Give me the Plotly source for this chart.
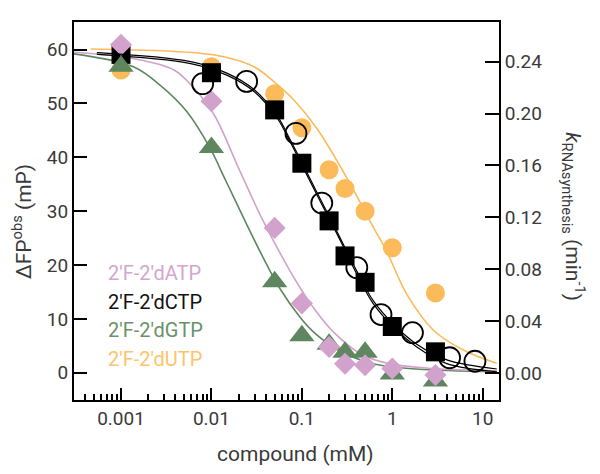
import plotly.graph_objects as go

# concentrations (mM) used for the FP titrations
conc = [0.001, 0.01, 0.05, 0.1, 0.2, 0.3, 0.5, 1, 3]

# delta FP obs (mP)
fp_atp = [60.9, 50.4, 26.9, 12.9, 4.8, 1.7, 1.4, 0.8, -0.4]
fp_ctp = [59.1, 55.7, 48.8, 38.9, 28.2, 21.7, 16.8, 8.6, 3.9]
fp_gtp = [56.9, 41.8, 16.9, 6.9, 5.3, 3.8, 3.8, -0.2, -1.5]
fp_utp = [56.2, 56.8, 51.8, 45.5, 37.7, 34.2, 30.0, 23.2, 14.8]

# RNA synthesis rate for 2'F-2'dCTP (min-1), right axis
conc_k = [0.008, 0.0245, 0.086, 0.166, 0.405, 0.75, 1.67, 4.3, 8.2]
k_ctp  = [0.223, 0.2248, 0.1847, 0.131, 0.0812, 0.045, 0.031, 0.0117, 0.009]

# fitted curves
fit_atp_x = [0.0003, 0.00139, 0.00386, 0.00642, 0.0107, 0.0207, 0.0373, 0.068, 0.0955, 0.134, 0.223, 0.44, 0.869, 2.85, 14.3]
fit_atp_y = [59.5, 58.3, 56.2, 52.8, 47.9, 37.4, 28.2, 20.0, 15.8, 12.1, 7.6, 3.6, 1.8, 0.8, 0.4]

fit_ctp_x = [0.00054, 0.0059, 0.015, 0.0296, 0.0536, 0.0741, 0.104, 0.146, 0.205, 0.288, 0.405, 0.618, 1.03, 1.866, 4.01, 14.3]
fit_ctp_y = [59.1, 57.4, 55.2, 52.2, 47.2, 42.9, 38.0, 33.1, 28.3, 23.4, 18.3, 12.8, 8.5, 4.8, 1.7, 0.2]

fit_k_x = [0.00054, 0.0059, 0.015, 0.0296, 0.0536, 0.0741, 0.104, 0.146, 0.205, 0.288, 0.405, 0.618, 1.03, 1.866, 4.01, 14.3]
fit_k_y = [0.247, 0.240, 0.231, 0.2185, 0.198, 0.180, 0.160, 0.1395, 0.1195, 0.0990, 0.0785, 0.0555, 0.0375, 0.022, 0.0100, 0.0030]

fit_gtp_x = [0.0003, 0.00137, 0.0027, 0.00533, 0.00966, 0.01355, 0.0175, 0.0246, 0.0373, 0.0574, 0.0955, 0.134, 0.265, 0.618, 1.866, 14.3]
fit_gtp_y = [59.2, 56.8, 53.4, 48.5, 41.7, 36.6, 32.7, 27.5, 21.4, 15.6, 10.3, 7.6, 4.0, 1.7, 0.7, 0.2]

fit_utp_x = [0.00046, 0.0116, 0.0296, 0.0493, 0.082, 0.146, 0.314, 0.618, 0.869, 1.445, 2.85, 6.67, 14.3]
fit_utp_y = [60.1, 58.9, 56.8, 54.0, 50.6, 45.4, 36.2, 27.0, 22.5, 14.6, 7.9, 3.9, 1.8]

labels = ["2′F-2′dATP", "2′F-2′dCTP", "2′F-2′dGTP", "2′F-2′dUTP"]

PINK   = "#d2a2cc"
GREEN  = "#5e8760"
ORANGE = "#fbbb5b"
BLACK  = "#000000"
label_colors = ["#d4a6cf", "#111111", "#6b9168", "#fdc46b"]

FONT = "Roboto"
GREY = "#3a3a3a"

fig = go.Figure()

# fit lines (below the markers)
def add_fit(x, y, color, yaxis="y", width=1.6):
    fig.add_trace(go.Scatter(
                                x          = x,
                                y          = y,
                                mode       = "lines",
                                line       = dict(color=color, width=width, shape="spline", smoothing=1),
                                yaxis      = yaxis,
                                showlegend = False,
                                hoverinfo  = "skip",
                            ))

add_fit(fit_utp_x, fit_utp_y, ORANGE)
add_fit(fit_gtp_x, fit_gtp_y, GREEN)
add_fit(fit_atp_x, fit_atp_y, PINK)
add_fit(fit_ctp_x, fit_ctp_y, BLACK, width=1.2)
add_fit(fit_k_x, fit_k_y, BLACK, yaxis="y2", width=1.2)

# markers
fig.add_trace(go.Scatter(x=conc, y=fp_utp, mode="markers", showlegend=False,
                         marker=dict(symbol="circle", size=19, color=ORANGE)))
fig.add_trace(go.Scatter(x=conc_k, y=k_ctp, mode="markers", yaxis="y2", showlegend=False,
                         marker=dict(symbol="circle-open", size=21, color=BLACK, line=dict(width=1.8))))
fig.add_trace(go.Scatter(x=conc, y=fp_ctp, mode="markers", showlegend=False,
                         marker=dict(symbol="square", size=19, color=BLACK)))
fig.add_trace(go.Scatter(x=conc, y=fp_gtp, mode="markers", showlegend=False,
                         marker=dict(symbol="triangle-up", size=22, color=GREEN)))
fig.add_trace(go.Scatter(x=conc, y=fp_atp, mode="markers", showlegend=False,
                         marker=dict(symbol="diamond", size=17, color=PINK)))

# legend as coloured text
for i, (txt, col) in enumerate(zip(labels, label_colors)):
    fig.add_annotation(
                        x         = 0.075,
                        y         = 0.337 - i * 0.0765,
                        xref      = "paper",
                        yref      = "paper",
                        text      = txt,
                        showarrow = False,
                        xanchor   = "left",
                        yanchor   = "middle",
                        font      = dict(size=20, color=col, family=FONT),
                    )

# axis titles
title_font = dict(size=21, color=GREY, family=FONT)
fig.add_annotation(x=0.52, y=-0.142, xref="paper", yref="paper", showarrow=False,
                   xanchor="center", yanchor="middle",
                   text="compound (mM)", font=title_font)
fig.add_annotation(x=-0.122, y=0.471, xref="paper", yref="paper", showarrow=False, textangle=-90,
                   xanchor="center", yanchor="middle",
                   text="ΔFP<sup>obs</sup> (mP)", font=title_font)
fig.add_annotation(x=1.176, y=0.484, xref="paper", yref="paper", showarrow=False, textangle=90,
                   xanchor="center", yanchor="middle",
                   text="<i>k</i><sub>RNAsynthesis</sub> (min<sup>-1</sup>)", font=title_font)

# the page body adds 8 px on the left and top, so the margins are shifted by 8 px
fig.update_layout(
                    width         = 600,
                    height        = 474,
                    plot_bgcolor  = "white",
                    paper_bgcolor = "white",
                    margin        = dict(l=66, r=109, t=12, b=82),
                    font          = dict(family=FONT, size=19, color=GREY),
                    xaxis         = dict(
                                        type      = "log",
                                        range     = [-3.52, 1.18],
                                        tickvals  = [0.001, 0.01, 0.1, 1, 10],
                                        ticktext  = ["0.001", "0.01", "0.1", "1", "10"],
                                        ticks     = "inside",
                                        ticklen   = 12,
                                        tickwidth = 1.5,
                                        tickcolor = "black",
                                        minor     = dict(ticks="inside", ticklen=6, tickwidth=1.5, tickcolor="black", dtick="D1"),
                                        showline  = True,
                                        linecolor = "black",
                                        linewidth = 2,
                                        mirror    = True,
                                        showgrid  = False,
                                        zeroline  = False,
                                    ),
                    yaxis         = dict(
                                        range     = [-5.04, 65.11],
                                        tickvals  = [0, 10, 20, 30, 40, 50, 60],
                                        ticks     = "inside",
                                        ticklen   = 13,
                                        tickwidth = 1.8,
                                        tickcolor = "black",
                                        showline  = True,
                                        linecolor = "black",
                                        linewidth = 2,
                                        showgrid  = False,
                                        zeroline  = False,
                                    ),
                    yaxis2        = dict(
                                        overlaying = "y",
                                        side       = "right",
                                        range      = [-0.0209, 0.2706],
                                        tickvals   = [0, 0.04, 0.08, 0.12, 0.16, 0.20, 0.24],
                                        tickformat = ".2f",
                                        ticks      = "inside",
                                        ticklen    = 14,
                                        tickwidth  = 1.8,
                                        tickcolor  = "black",
                                        showline   = True,
                                        linecolor  = "black",
                                        linewidth  = 2,
                                        showgrid   = False,
                                        zeroline   = False,
                                    ),
                )

fig.write_html("out.html")
